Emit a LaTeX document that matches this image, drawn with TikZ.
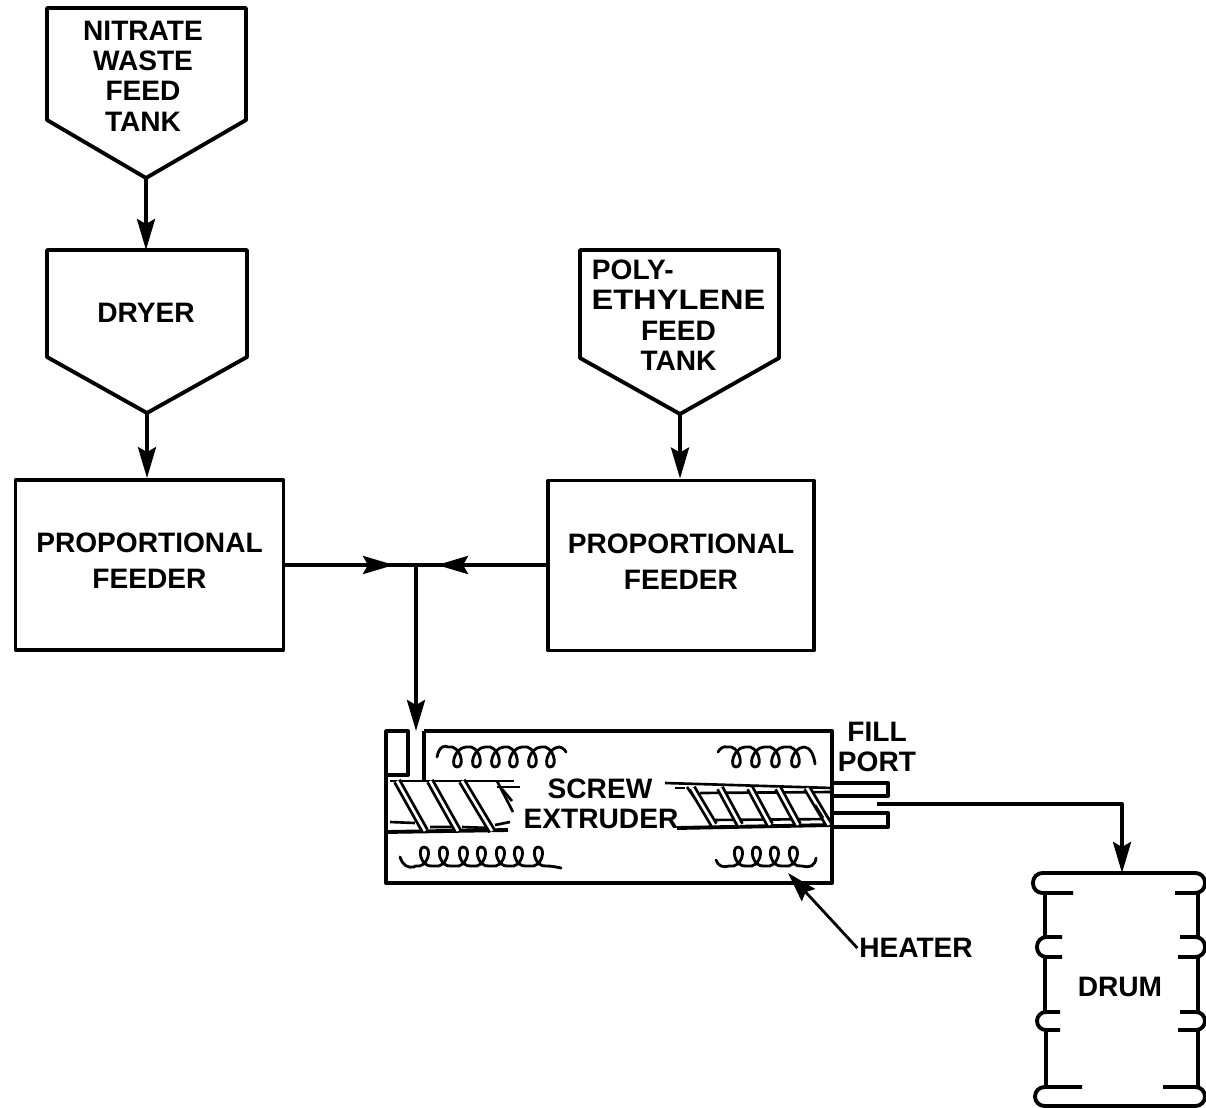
\documentclass[tikz,border=0pt]{standalone}
\usepackage{fontspec}
\setmainfont{Liberation Sans}
\usetikzlibrary{arrows.meta}
\begin{document}
\begin{tikzpicture}[x=0.02cm, y=-0.02cm, line width=2.2pt, line join=round, >={Stealth[length=0.62cm,width=0.36cm,inset=0.1cm]}]
    \tikzstyle{label}=[font=\fontsize{16}{17.3}\selectfont\bfseries, align=center, inner sep=0pt]
    \tikzstyle{block}=[draw, minimum width=5.36cm, minimum height=3.4cm, label]
    \tikzstyle{thin}=[line width=1.5pt]
    \tikzstyle{stripe}=[line width=1.6pt, double, double distance=1.5pt]
    \tikzstyle{coil}=[line width=1.6pt, line cap=round]
    \useasboundingbox (0,0) rectangle (1206,1108);
    % tanks
    \draw (47,8) -- (47,120) -- (146,178) coordinate (nitratetip) -- (246,120) -- (246,8) -- cycle;
    \node[label] (nitrate) at (143,76) {NITRATE\\WASTE\\FEED\\TANK};
    \draw (47,250) -- (47,357) -- (147,413) coordinate (dryertip) -- (247,357) -- (247,250) -- cycle;
    \node[label] (dryer) at (146,313) {DRYER};
    \draw (580,250) -- (580,358) -- (680,414) coordinate (polytip) -- (779,358) -- (779,250) -- cycle;
    \node[label] (poly) at (678.5,315) {\hspace*{-52pt}POLY-\\\scalebox{1.16}[1]{ETHYLENE}\\FEED\\TANK};
    % feeders
    \node[block] (feeder1) at (149.5,565) {PROPORTIONAL\\[3.4pt]FEEDER\rule[-4.6pt]{0pt}{0pt}};
    \node[block, minimum width=5.32cm] (feeder2) at (681,565.5) {PROPORTIONAL\\[3.4pt]FEEDER\rule[-4.6pt]{0pt}{0pt}};
    \coordinate (junction) at (416,565);
    \draw[->] (nitratetip) -- (146,250);
    \draw[->] (dryertip) -- (feeder1.north -| dryertip);
    \draw[->] (polytip) -- (feeder2.north -| polytip);
    \draw[->] (feeder1.east |- junction) -- (394,565);
    \draw[->] (feeder2.west |- junction) -- (437,565);
    \draw (385,565) -- (445,565);
    % extruder
    \draw (424,731) coordinate (hopper) -- (832,731) -- (832,883) -- (386,883) -- (386,731) -- (408,731) -- (408,775) -- (386,775);
    \draw[->] (junction) -- (hopper -| junction);
    \draw (424,731) -- (424,781);
    \draw (386,832) -- (508,830);
    \draw (677,828) -- (832,825);
    \draw[thin] (390,781) -- (514,781);
    \draw[thin] (497,787) -- (520,787);
    \draw[thin] (390,822) -- (415,823);
    \draw[thin] (430,827) -- (458,827) (462,827) -- (490,828) (495,825) -- (510,822);
    \draw[thin] (665,783) -- (832,788);
    \draw[thin] (675,788) -- (685,788);
    \draw[thin] (700,793) -- (832,792);
    \draw[thin] (687,787) -- (710,820) -- (832,819);
    \foreach \xa/\xb in {397/425, 430/458, 462/492}
      \draw[stripe] (\xa,781) -- (\xb,831);
    \draw[thin] (497,781) -- (513,812);
    \draw[thin] (502,789) -- (512,801);
    \foreach \xa/\xb in {692/714, 720/740, 750/770, 778/798, 807/829}
      \draw[stripe] (\xa,788) -- (\xb,825);
    \draw[thin] (815,805) -- (823,818);
    % coils
    \draw[coil] (437,757) .. controls (439,746) and (445,745) .. (448,747)
      foreach \x in {457,476,495,513,532,550} { -- ({\x-9},747) .. controls ({\x+3},744) and ({\x+9},767) .. (\x,767) .. controls ({\x-7},767) and ({\x-3},748) .. ({\x+9},747) }
      .. controls (562,747) and (565,750) .. (566,752);
    \draw[coil] (718,752) .. controls (720,748) and (724,746) .. (727,747)
      foreach \x in {736,755,775,795} { -- ({\x-9},747) .. controls ({\x+3},744) and ({\x+9},767) .. (\x,767) .. controls ({\x-7},767) and ({\x-3},748) .. ({\x+9},747) }
      .. controls (810,747) and (814,755) .. (815,764);
    \draw[coil] (400,857) .. controls (403,866) and (408,868) .. (414,867)
      foreach \x in {424,443,463,481,500,518,538} { -- ({\x-9},866) .. controls ({\x+4},869) and ({\x+9},847) .. (\x,847) .. controls ({\x-7},847) and ({\x-4},868) .. ({\x+9},866) }
      .. controls (552,866) and (556,867) .. (561,868);
    \draw[coil] (716,860) .. controls (718,866) and (723,868) .. (729,866)
      foreach \x in {738,756,774,793} { -- ({\x-9},866) .. controls ({\x+4},869) and ({\x+9},847) .. (\x,847) .. controls ({\x-7},847) and ({\x-4},868) .. ({\x+9},866) }
      .. controls (810,868) and (815,866) .. (816,858);
    \node[label] (screw) at (600,789) {SCREW};
    \node[label] (extruder) at (601,819) {EXTRUDER};
    % fill port
    \draw (832,783) -- (888,783) -- (888,796) -- (832,796);
    \draw (832,813) -- (888,813) -- (888,827) -- (832,827);
    \node[label] (fill) at (877,732) {FILL};
    \node[label] (port) at (877,762) {PORT};
    % drum
    \draw (1045,893) -- (1045,937) (1045,957) -- (1045,1012) (1046,1030) -- (1046,1087);
    \draw (1198,893) -- (1198,937) (1198,957) -- (1198,1012) (1198,1030) -- (1198,1087);
    \draw[rounded corners=0.19cm] (1073,893) -- (1033,893) -- (1033,873) -- (1205,873) -- (1205,893) -- (1175,893);
    \coordinate (drumtop) at (1122,873);
    \draw[rounded corners=0.19cm] (1062,937) -- (1037,937) -- (1037,957) -- (1062,957);
    \draw[rounded corners=0.19cm] (1180,937) -- (1205,937) -- (1205,957) -- (1178,957);
    \draw[rounded corners=0.18cm] (1060,1012) -- (1037,1012) -- (1037,1030) -- (1060,1030);
    \draw[rounded corners=0.18cm] (1180,1012) -- (1205,1012) -- (1205,1030) -- (1178,1030);
    \draw[rounded corners=0.19cm] (1082,1087) -- (1035,1087) -- (1035,1106) -- (1205,1106) -- (1205,1087) -- (1163,1087);
    \node[label] (drum) at (1120,987) {DRUM};
    % outlet and heater
    \coordinate (outlet) at (877,804);
    \draw[->] (outlet) -| (drumtop);
    \node[label] (heater) at (916,948) {HEATER};
    \coordinate (heatertip) at (788,873);
    \draw[-{Stealth[length=0.6cm,width=0.36cm,inset=0.08cm]}, line width=1.6pt] (heater.west) -- (heatertip);
\end{tikzpicture}
\end{document}
